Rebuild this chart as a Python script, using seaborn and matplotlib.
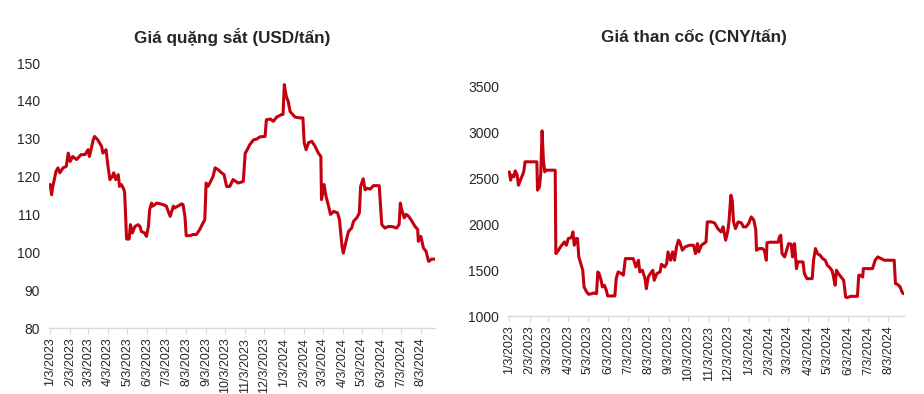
import pandas as pd
import matplotlib
matplotlib.use('Agg')
import matplotlib.pyplot as plt
import matplotlib.dates as mdates
from matplotlib.ticker import FuncFormatter
import seaborn as sns

ngay_goc = pd.Timestamp('2023-01-03')

# Giá quặng sắt (USD/tấn): số ngày kể từ 3/1/2023 và giá
ngay_quang = [0, 2, 4, 9, 12, 15, 20, 25, 28, 31, 35, 41, 48, 54, 59, 61, 67, 69, 74, 80,
              82, 87, 90, 93, 97, 99, 102, 106, 108, 111, 115, 116, 119, 123, 125, 128, 132, 137, 140, 142,
              147, 150, 153, 155, 158, 160, 166, 171, 176, 181, 184, 187, 192, 194, 199, 205, 207, 210, 212, 218,
              223, 228, 233, 238, 241, 243, 246, 250, 254, 257, 262, 267, 271, 275, 280, 285, 293, 301, 304, 306,
              311, 317, 322, 327, 335, 337, 343, 348, 353, 361, 363, 365, 368, 371, 374, 378, 382, 389, 394, 396,
              399, 403, 408, 413, 418, 422, 423, 427, 430, 434, 437, 442, 448, 451, 455, 457, 462, 465, 470, 473,
              478, 482, 484, 488, 491, 494, 499, 504, 513, 517, 522, 527, 533, 540, 544, 546, 548, 552, 555, 559,
              564, 569, 573, 574, 578, 582, 586, 590, 595, 600]
gia_quang = [117.9, 115.2, 117.4, 121.4, 122.3, 121.0, 122.3, 122.7, 126.2, 124.0, 125.3, 124.5, 125.8, 125.8, 127.1, 125.3, 129.7, 130.6, 129.7, 128.0,
             126.2, 127.1, 122.7, 119.2, 120.1, 121.0, 119.2, 120.5, 117.4, 117.9, 116.5, 115.6, 103.5, 103.5, 107.3, 105.1, 106.8, 107.3, 106.8, 105.5,
             105.1, 104.2, 106.8, 111.3, 113.0, 112.2, 113.0, 112.8, 112.6, 112.2, 110.8, 109.5, 112.2, 111.7, 112.2, 112.8, 112.6, 109.5, 104.4, 104.4,
             104.7, 104.7, 106.0, 107.7, 108.6, 118.3, 117.4, 118.7, 120.1, 122.3, 121.8, 121.0, 120.5, 117.4, 117.4, 119.2, 118.3, 118.7, 126.2, 126.7,
             128.4, 129.7, 129.9, 130.5, 130.6, 135.0, 135.2, 134.6, 135.7, 136.4, 136.4, 144.3, 141.2, 139.9, 137.2, 136.4, 135.7, 135.5, 135.5, 128.9,
             127.1, 129.0, 129.3, 128.0, 126.2, 125.3, 113.9, 117.9, 114.8, 112.2, 110.0, 110.8, 110.4, 108.6, 101.6, 99.8, 103.3, 105.5, 106.4, 108.2,
             109.1, 110.4, 117.4, 119.4, 116.5, 116.9, 116.7, 117.6, 117.6, 107.3, 106.4, 106.8, 106.8, 106.4, 107.3, 113.0, 111.3, 109.1, 110.0, 109.5,
             108.2, 106.8, 106.0, 102.9, 104.2, 101.1, 100.3, 97.6, 98.2, 98.2]

# Giá than cốc (CNY/tấn)
ngay_than = [0, 2, 4, 7, 9, 12, 14, 17, 22, 24, 29, 42, 43, 46, 48, 50, 52, 54, 56, 62,
             70, 71, 75, 78, 80, 84, 87, 90, 95, 97, 99, 102, 104, 106, 109, 112, 114, 118, 121, 126,
             129, 133, 135, 137, 140, 142, 145, 148, 150, 156, 161, 163, 166, 171, 174, 177, 182, 189, 193, 197,
             199, 203, 207, 209, 212, 215, 219, 221, 225, 230, 232, 237, 240, 242, 246, 249, 252, 255, 258, 260,
             264, 268, 275, 281, 284, 287, 289, 293, 300, 302, 308, 313, 318, 323, 326, 330, 333, 335, 338, 340,
             342, 345, 349, 354, 357, 361, 365, 369, 373, 376, 377, 381, 386, 389, 392, 393, 397, 410, 412, 414,
             416, 420, 423, 426, 430, 432, 435, 438, 440, 448, 450, 454, 462, 464, 467, 470, 474, 478, 482, 485,
             488, 492, 494, 497, 499, 502, 506, 510, 513, 515, 521, 531, 533, 535, 539, 540, 547, 554, 558, 562,
             567, 572, 579, 587, 589, 592, 596, 599, 601]
gia_than = [2567, 2477, 2531, 2513, 2578, 2531, 2422, 2477, 2567, 2676, 2676, 2676, 2368, 2404, 2549, 3013, 2694, 2567, 2585, 2585,
            2585, 1678, 1715, 1751, 1769, 1805, 1769, 1842, 1853, 1914, 1769, 1842, 1842, 1642, 1570, 1497, 1316, 1261, 1236, 1243,
            1250, 1243, 1479, 1461, 1388, 1316, 1334, 1279, 1218, 1218, 1218, 1406, 1479, 1461, 1443, 1624, 1624, 1624, 1533, 1606,
            1479, 1497, 1406, 1297, 1424, 1461, 1497, 1388, 1461, 1479, 1562, 1533, 1570, 1697, 1606, 1697, 1606, 1751, 1824, 1805,
            1715, 1751, 1769, 1769, 1678, 1787, 1697, 1769, 1805, 2023, 2023, 2012, 1950, 1914, 1969, 1824, 1914, 2023, 2313, 2259,
            2023, 1950, 2023, 2012, 1969, 1969, 2005, 2077, 2041, 1932, 1715, 1733, 1733, 1715, 1606, 1795, 1802, 1802, 1860, 1878,
            1678, 1642, 1715, 1787, 1780, 1642, 1787, 1515, 1588, 1588, 1461, 1406, 1406, 1606, 1733, 1678, 1660, 1624, 1606, 1551,
            1533, 1497, 1443, 1334, 1497, 1461, 1424, 1388, 1207, 1200, 1214, 1214, 1443, 1443, 1424, 1515, 1515, 1515, 1606, 1642,
            1624, 1606, 1606, 1606, 1352, 1345, 1316, 1261, 1243]

df_quang = pd.DataFrame({'ngay': ngay_goc + pd.to_timedelta(ngay_quang, unit='D'), 'gia': gia_quang})
df_than = pd.DataFrame({'ngay': ngay_goc + pd.to_timedelta(ngay_than, unit='D'), 'gia': gia_than})

sns.set_style('white')
plt.rcParams['font.family'] = ['Liberation Sans', 'DejaVu Sans']

mau_duong = '#c4000f'
mau_truc = '#d9d9d9'

fig = plt.figure(figsize=(9.24, 3.94), dpi=100)
ax1 = fig.add_axes([49 / 924, 1 - 328 / 394, (435 - 49) / 924, (328 - 63) / 394])
ax2 = fig.add_axes([508 / 924, 1 - 316 / 394, (904 - 508) / 924, (316 - 86) / 394])

sns.lineplot(data=df_quang, x='ngay', y='gia', ax=ax1, color=mau_duong, linewidth=2.2)
sns.lineplot(data=df_than, x='ngay', y='gia', ax=ax2, color=mau_duong, linewidth=2.2)

ax1.set_ylim(80, 150)
ax1.set_yticks([80, 90, 100, 110, 120, 130, 140, 150])
ax2.set_ylim(1000, 3500)
ax2.set_yticks([1000, 1500, 2000, 2500, 3000, 3500])

ax1.set_xlim(pd.Timestamp('2023-01-01'), ngay_goc + pd.Timedelta(days=600))
ax2.set_xlim(pd.Timestamp('2023-01-01'), ngay_goc + pd.Timedelta(days=602))


def dinh_dang_ngay(x, pos):
    d = mdates.num2date(x)
    return f'{d.month}/{d.day}/{d.year}'


for ax in (ax1, ax2):
    ax.xaxis.set_major_locator(mdates.MonthLocator(bymonthday=3))
    ax.xaxis.set_major_formatter(FuncFormatter(dinh_dang_ngay))
    ax.tick_params(axis='x', rotation=90, labelsize=9, colors=mau_truc, labelcolor='#262626',
                   length=4, width=0.8, direction='out', bottom=True, pad=3)
    ax.tick_params(axis='y', labelsize=10, labelcolor='#262626', length=0, pad=6.5)
    for s in ('top', 'right', 'left'):
        ax.spines[s].set_visible(False)
    ax.spines['bottom'].set_color(mau_truc)
    ax.spines['bottom'].set_linewidth(1.0)
    ax.set_xlabel('')
    ax.set_ylabel('')
    ax.grid(False)

fig.text(232 / 924, 1 - 37 / 394, 'Giá quặng sắt (USD/tấn)', ha='center', va='center',
         fontsize=12.3, fontweight='bold')
fig.text(694 / 924, 1 - 37 / 394, 'Giá than cốc (CNY/tấn)', ha='center', va='center',
         fontsize=12.3, fontweight='bold')

fig.savefig('out.png', dpi=100)
